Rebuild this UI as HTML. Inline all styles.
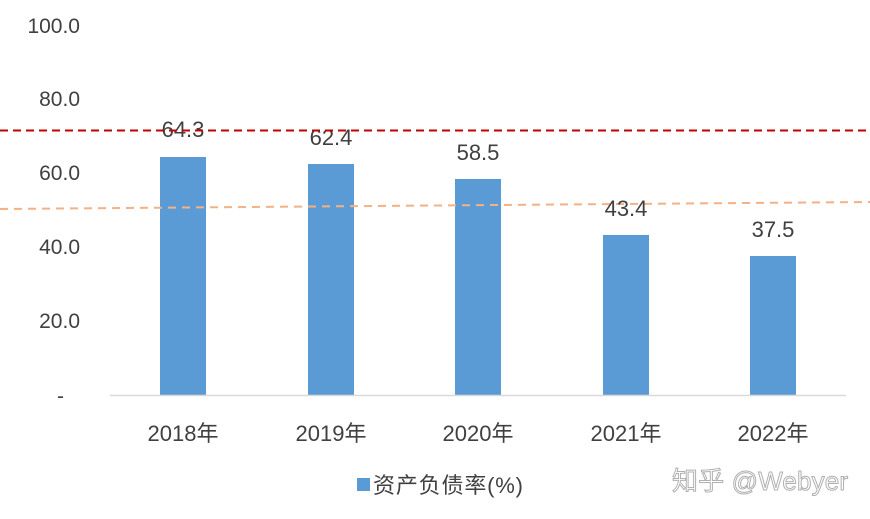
<!DOCTYPE html>
<html><head><meta charset="utf-8"><style>
html,body{margin:0;padding:0;background:#fff;}
svg{display:block;}
text{font-family:"Liberation Sans","Noto Sans CJK SC",sans-serif;fill:#404040;}
</style></head><body>
<svg width="870" height="519" viewBox="0 0 870 519" xmlns="http://www.w3.org/2000/svg">
<g font-size="21" text-anchor="end">
<text x="80" y="33">100.0</text>
<text x="80" y="106">80.0</text>
<text x="80" y="180">60.0</text>
<text x="80" y="254">40.0</text>
<text x="80" y="328">20.0</text>
<text x="64" y="403">-</text>
</g>
<g fill="#5b9bd5">
<rect x="160" y="157" width="46" height="238"/>
<rect x="308" y="164" width="46" height="231"/>
<rect x="455" y="179" width="46" height="216"/>
<rect x="603" y="235" width="46" height="160"/>
<rect x="750" y="256" width="46" height="139"/>
</g>
<line x1="110" y1="395.5" x2="846" y2="395.5" stroke="#d9d9d9" stroke-width="1.5"/>
<line x1="0" y1="209" x2="870" y2="202" stroke="#f4b183" stroke-width="2" stroke-dasharray="8,6"/>
<g font-size="22" text-anchor="middle">
<text x="183" y="137">64.3</text>
<text x="331" y="145">62.4</text>
<text x="478" y="160">58.5</text>
<text x="626" y="216">43.4</text>
<text x="773" y="237">37.5</text>
</g>
<line x1="0" y1="130.5" x2="870" y2="130.5" stroke="#c00000" stroke-width="2" stroke-dasharray="8,5"/>
<g font-size="22" text-anchor="middle">
<text x="183" y="441">2018年</text>
<text x="331" y="441">2019年</text>
<text x="478" y="441">2020年</text>
<text x="626" y="441">2021年</text>
<text x="773" y="441">2022年</text>
</g>
<rect x="357" y="478" width="13" height="13" fill="#5b9bd5"/>
<text x="373" y="493" font-size="22" textLength="150">资产负债率(%)</text>
<text x="672" y="490" font-size="26" textLength="176" style="fill:#fff;stroke:#b0b0b0;stroke-width:1">知乎 @Webyer</text>
</svg>
</body></html>
